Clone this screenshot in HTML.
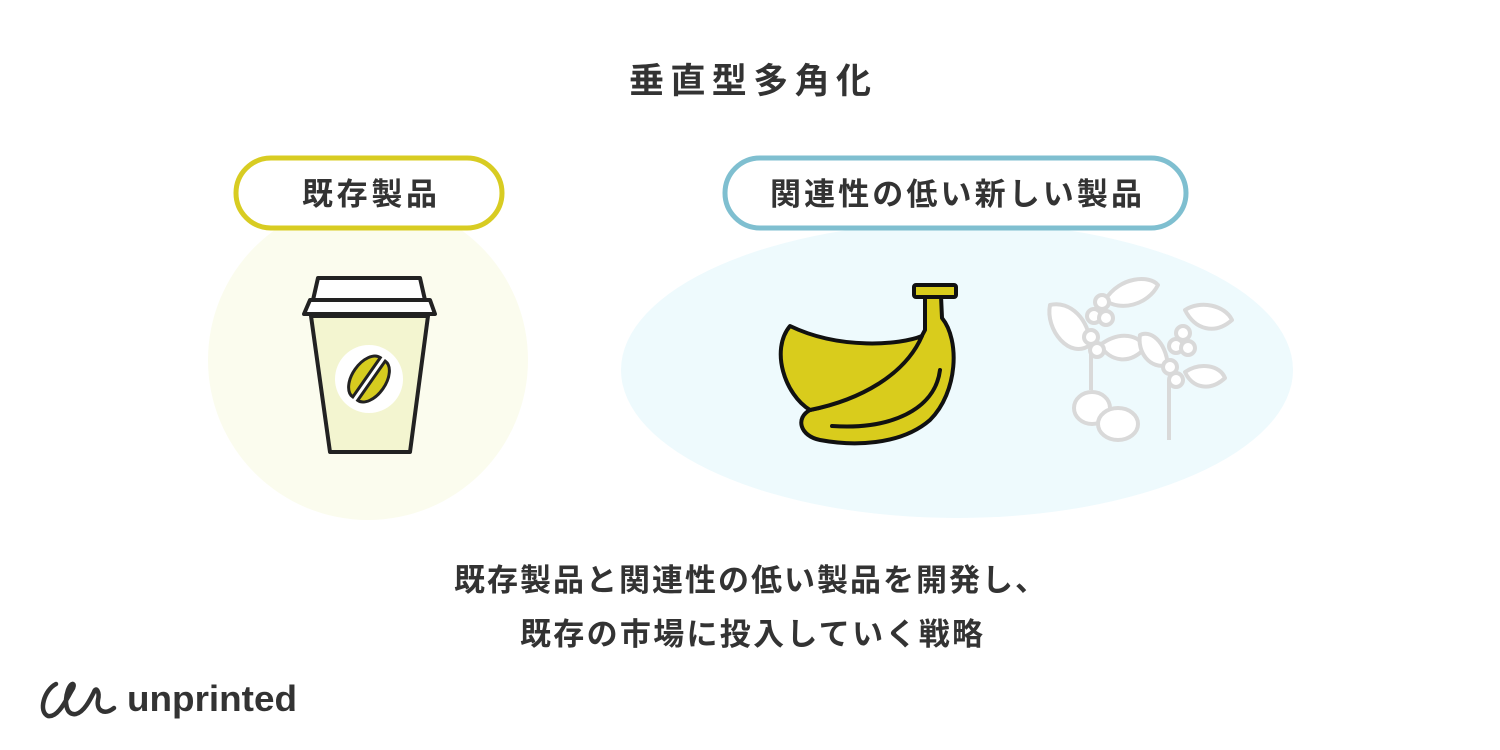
<!DOCTYPE html>
<html><head><meta charset="utf-8"><style>
html,body{margin:0;padding:0;background:#fff;}
svg{display:block;}
text{font-family:"Liberation Sans","Noto Sans CJK JP",sans-serif;font-weight:bold;fill:#333;}
</style></head><body>
<svg width="1500" height="750" viewBox="0 0 1500 750" xmlns="http://www.w3.org/2000/svg">
<rect width="1500" height="750" fill="#fff"/>
<text x="629" y="93" font-size="35" textLength="242" lengthAdjust="spacing">垂直型多角化</text>

<!-- left -->
<circle cx="368" cy="360" r="160" fill="#fbfcee"/>
<rect x="236" y="158" width="266" height="70" rx="35" fill="#fff" stroke="#d8cc22" stroke-width="5"/>
<text x="302" y="205" font-size="31" textLength="135" lengthAdjust="spacing">既存製品</text>

<!-- cup -->
<g stroke="#222" stroke-width="4" stroke-linejoin="round">
<path d="M311 316 L428 316 L410 452 L330 452 Z" fill="#f3f5d0"/>
<path d="M318 278 L420 278 L425 300 L313 300 Z" fill="#fff"/>
<path d="M310 300 L430 300 L435 314 L304 314 Z" fill="#fff"/>
</g>
<circle cx="369" cy="379" r="34" fill="#fff"/>
<g transform="rotate(35 369 379)" stroke="#222" stroke-width="3" fill="#d6cc1f">
<path d="M366 355 A14 24 0 0 0 366 403 Z"/>
<path d="M372 355 A14 24 0 0 1 372 403 Z"/>
</g>

<!-- right -->
<ellipse cx="957" cy="370" rx="336" ry="148" fill="#eefafd"/>
<rect x="725" y="158" width="461" height="70" rx="35" fill="#fff" stroke="#7fbfd0" stroke-width="5"/>
<text x="770" y="205" font-size="31" textLength="372" lengthAdjust="spacing">関連性の低い新しい製品</text>

<!-- banana -->
<g stroke="#111" stroke-width="4" stroke-linejoin="round" fill="#d9cc1c">
<path d="M925 296 L941 296 L942 318 C960 340 958 392 930 420 C900 446 852 446 820 440 C800 436 795 418 810 410 C860 400 905 370 925 330 Z"/>
<path d="M790 326 C840 350 900 345 922 336 C905 375 860 400 810 410 C785 395 770 350 790 326 Z"/>
<rect x="914" y="285" width="42" height="12" rx="2"/>
</g>
<path d="M940 370 C935 410 890 430 832 426" stroke="#111" stroke-width="4" fill="none" stroke-linecap="round"/>

<!-- coffee plant -->
<g stroke="#d9d9d9" stroke-width="4" fill="#fff" stroke-linejoin="round">
<line x1="1091" y1="340" x2="1091" y2="390"/>
<line x1="1169" y1="380" x2="1169" y2="440"/>
<path d="M1050 305 C1070 300 1090 320 1090 345 C1070 360 1045 330 1050 305 Z"/>
<path d="M1105 300 C1120 276 1150 275 1158 285 C1148 305 1120 312 1105 300 Z"/>
<path d="M1100 345 C1120 330 1140 335 1145 348 C1130 365 1110 362 1100 345 Z"/>
<path d="M1140 335 C1150 330 1165 340 1168 365 C1150 370 1137 352 1140 335 Z"/>
<path d="M1185 310 C1200 300 1225 305 1232 320 C1215 335 1195 330 1185 310 Z"/>
<path d="M1185 372 C1200 362 1220 365 1225 378 C1210 392 1192 388 1185 372 Z"/>
<circle cx="1102" cy="302" r="7"/><circle cx="1094" cy="316" r="7"/><circle cx="1106" cy="318" r="7"/>
<circle cx="1091" cy="337" r="7"/><circle cx="1097" cy="350" r="7"/>
<circle cx="1183" cy="333" r="7"/><circle cx="1176" cy="346" r="7"/><circle cx="1188" cy="348" r="7"/>
<circle cx="1170" cy="367" r="7"/><circle cx="1176" cy="380" r="7"/>
<ellipse cx="1092" cy="408" rx="18" ry="16"/>
<ellipse cx="1118" cy="424" rx="20" ry="16"/>
</g>

<text x="454" y="591" font-size="31" textLength="592" lengthAdjust="spacing">既存製品と関連性の低い製品を開発し、</text>
<text x="520" y="645" font-size="31" textLength="463" lengthAdjust="spacing">既存の市場に投入していく戦略</text>

<!-- logo -->
<path d="M56 684 C44 690 38 712 48 716 C58 718 66 700 72 690 C76 684 72 680 68 690 C64 702 66 716 76 714 C84 712 90 700 94 692 C96 686 100 692 98 700 C96 710 104 716 114 708" stroke="#333" stroke-width="4.5" fill="none" stroke-linecap="round"/>
<text x="127" y="711" font-size="36" textLength="170" lengthAdjust="spacingAndGlyphs" fill="#333">unprinted</text>
</svg>
</body></html>
